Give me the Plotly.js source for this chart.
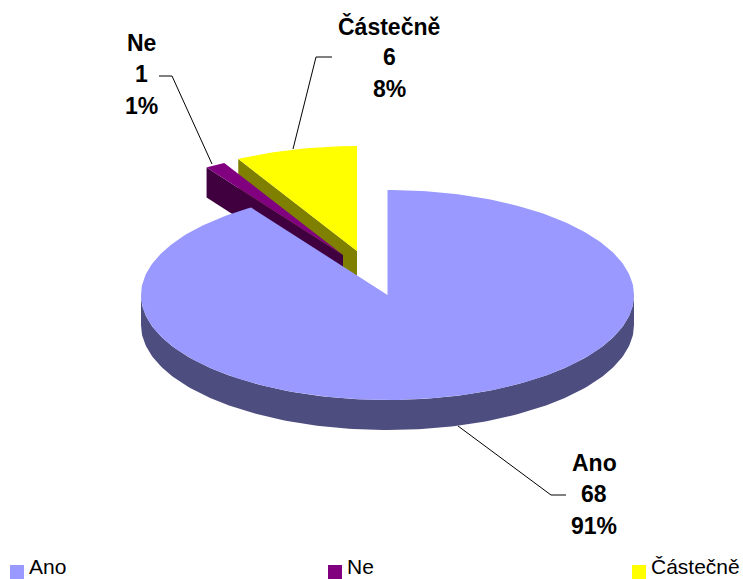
<!DOCTYPE html>
<html>
<head>
<meta charset="utf-8">
<script src="https://cdn.plot.ly/plotly-3.0.1.min.js"></script>
<style>html,body{margin:0;padding:0;background:#fff}#c{width:743px;height:579px}</style>
</head>
<body>
<div id="c"></div>
<script>
const categories = ["Ano", "Ne", "Částečně"];
const values = [68, 1, 6];
const topColors = ["#9999ff", "#800080", "#ffff00"];
const sideColors = ["#4d4d80", "#400040", "#808000"];
const centersX = [387.5, 343, 357];
const centersY = [295, 255, 251];
const legendX = [17, 335, 639];
const labelX = [594, 141, 389];
const labelY = [463, 43, 26];
const leaderX = [[566, 551, 458], [159, 172, 212], [332, 316, 293]];
const leaderY = [[495, 495, 426], [76, 76, 164], [57, 57, 149]];

const RX = 246.5, RY = 105, DEPTH = 30, LINE_GAP = 31.3;
const total = values.reduce((a, b) => a + b, 0);
const fractions = values.map(v => v / total);
const starts = fractions.map((_, i) => fractions.slice(0, i).reduce((a, b) => a + b, 0) * 360);
const pt = (i, deg, dy = 0) => {
  const r = deg * Math.PI / 180;
  return [centersX[i] + RX * Math.sin(r), centersY[i] - RY * Math.cos(r) + dy];
};
const poly = (pts, color) => ({
  type: "scatter", mode: "lines", fill: "toself", fillcolor: color,
  x: pts.map(p => p[0]), y: pts.map(p => p[1]),
  line: {width: 0, color: color}, hoverinfo: "skip", showlegend: false
});
const arc = (i, a, b, dy = 0) => {
  const out = [], n = Math.max(2, Math.ceil(Math.abs(b - a)));
  for (let k = 0; k <= n; k++) out.push(pt(i, a + (b - a) * k / n, dy));
  return out;
};
const topFace = i => poly([[centersX[i], centersY[i]], ...arc(i, starts[i], starts[i] + fractions[i] * 360)], topColors[i]);
const cutFace = i => {
  const o = pt(i, starts[i]);
  return poly([o, [centersX[i], centersY[i]], [centersX[i], centersY[i] + DEPTH], [o[0], o[1] + DEPTH]], sideColors[i]);
};
const rim = i => poly([...arc(i, 90, 270), ...arc(i, 270, 90, DEPTH)], sideColors[i]);

const traces = [
  cutFace(2), topFace(2),
  cutFace(1), topFace(1),
  rim(0), topFace(0)
];
leaderX.forEach((xs, i) => traces.push({
  type: "scatter", mode: "lines", x: xs, y: leaderY[i],
  line: {color: "#000000", width: 1}, hoverinfo: "skip", showlegend: false
}));
categories.forEach((c, i) => traces.push({
  type: "scatter", mode: "markers", x: [legendX[i]], y: [572],
  marker: {symbol: "square", size: 14, color: topColors[i], line: {width: 0}},
  hoverinfo: "skip", showlegend: false
}));

const annotations = [];
categories.forEach((c, i) => {
  [c, String(values[i]), Math.round(fractions[i] * 100) + "%"].forEach((t, k) => {
    annotations.push({
      x: labelX[i], y: labelY[i] + k * LINE_GAP, xref: "x", yref: "y", text: "<b>" + t + "</b>",
      showarrow: false, xanchor: "center", yanchor: "middle",
      font: {family: "Liberation Sans, Arial, sans-serif", size: 23, color: "#000"}
    });
  });
  annotations.push({
    x: legendX[i] + 11, y: 579, xref: "x", yref: "y", text: c,
    showarrow: false, xanchor: "left", yanchor: "bottom", borderpad: 0,
    font: {family: "Liberation Sans, Arial, sans-serif", size: 21, color: "#000"}
  });
});

Plotly.newPlot("c", traces, {
  width: 743, height: 579,
  margin: {l: 0, r: 0, t: 0, b: 0},
  paper_bgcolor: "#ffffff", plot_bgcolor: "#ffffff",
  showlegend: false,
  xaxis: {range: [0, 743], visible: false, fixedrange: true},
  yaxis: {range: [579, 0], visible: false, fixedrange: true},
  annotations: annotations
}, {displayModeBar: false, staticPlot: true});
</script>
</body>
</html>
